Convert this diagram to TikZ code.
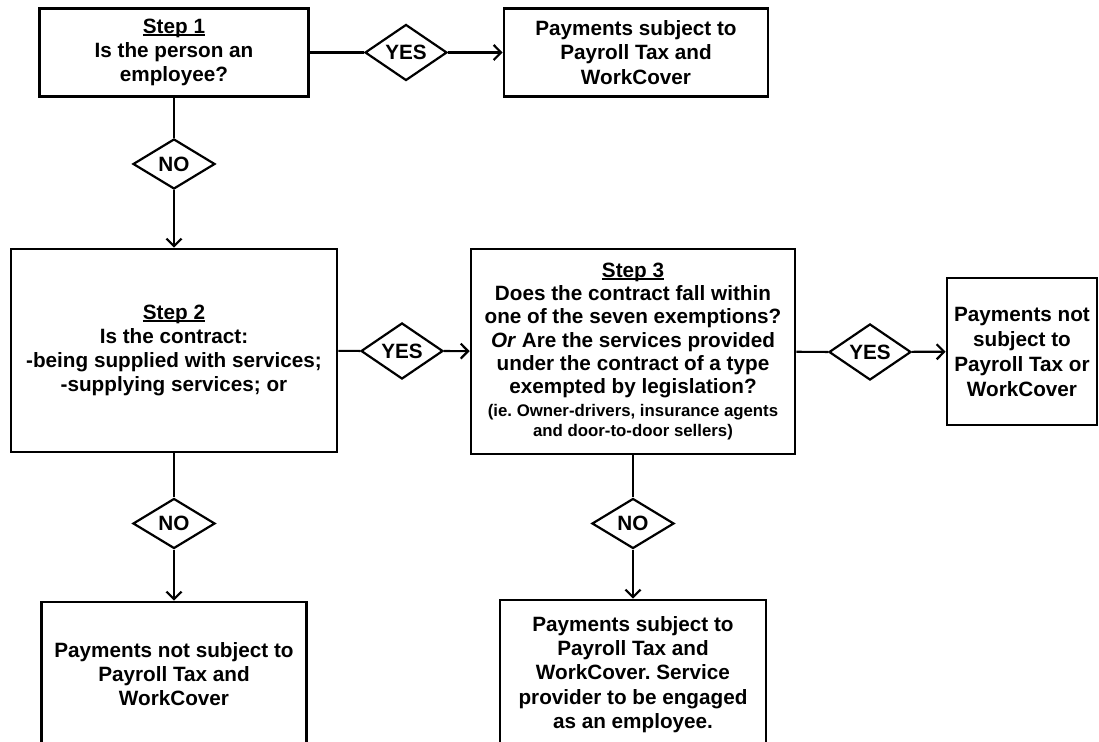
\documentclass[tikz,border=0pt]{standalone}
\usepackage{fontspec}
\setmainfont{Liberation Sans}
\usetikzlibrary{shapes.geometric,arrows.meta}
\frenchspacing

\newcommand{\smalltxt}{\fontsize{8.4}{9.3}\selectfont}
\newsavebox{\stepsave}
\newcommand{\stepname}[1]{\sbox{\stepsave}{#1}\rlap{\rule[-1.3pt]{\wd\stepsave}{1.15pt}}\usebox{\stepsave}}

\begin{document}
\begin{tikzpicture}[x=0.5pt,y=-0.5pt,
    box/.style={draw,line width=1.35pt,align=center,inner sep=0pt,
      font=\bfseries\fontsize{10.35}{12.1}\selectfont},
    choice/.style={draw,diamond,line width=1.1pt,inner sep=0pt,
      minimum width=41pt,minimum height=25pt,
      font=\bfseries\fontsize{10.35}{12.1}\selectfont},
    link/.style={line width=1.1pt},
    go/.style={line width=1.1pt,-{Straight Barb[length=3.7pt,width=7.5pt]}}]

    % Page size
    \useasboundingbox (0,0) rectangle (1099,742);
    \clip (0,0) rectangle (1099,742);

    % Step 1 row
    \node[box,minimum width=134.5pt,minimum height=44pt] (step1) at (174,52.5)
      {\stepname{Step 1}\\Is the person an\\employee?};
    \node[choice] (yes1) at (406,52.5) {YES};
    \node[box,minimum width=132pt,minimum height=44pt] (paid1) at (636,52.5)
      {Payments subject to\\Payroll Tax and\\WorkCover};
    \node[choice] (no1) at (174,164) {NO};

    % Step 2 and step 3 row
    \node[box,minimum width=163pt,minimum height=101.5pt] (step2) at (174,350.5)
      {\stepname{Step 2}\\Is the contract:\\-being supplied with services;\\-supplying services; or};
    \node[choice] (yes2) at (402,351) {YES};
    \node[box,minimum width=162pt,minimum height=102.5pt,
      font=\bfseries\fontsize{10.35}{11.6}\selectfont] (step3) at (633,351.5)
      {\stepname{Step 3}\\Does the contract fall within\\one of the seven exemptions?\\
       \textit{Or} Are the services provided\\under the contract of a type\\
       exempted by legislation?\\[-0.1pt]
       {\smalltxt (ie. Owner-drivers, insurance agents}\\[-1.6pt]
       {\smalltxt and door-to-door sellers)}};
    \node[choice] (yes3) at (870,352) {YES};
    \node[box,minimum width=75pt,minimum height=73.5pt,
      font=\bfseries\fontsize{10.35}{12.5}\selectfont] (paid2) at (1022,351.5)
      {Payments not\\subject to\\Payroll Tax or\\WorkCover};

    % Bottom row
    \node[choice] (no2) at (174,523.5) {NO};
    \node[choice] (no3) at (633,523.5) {NO};
    \node[box,minimum width=132.5pt,minimum height=72pt] (paid3) at (174,674)
      {Payments not subject to\\Payroll Tax and\\WorkCover};
    \node[box,minimum width=133pt,minimum height=74.5pt] (paid4) at (633,674.5)
      {Payments subject to\\Payroll Tax and\\WorkCover. Service\\provider to be engaged\\as an employee.};

    % Connectors
    \draw[link] (step1) -- (yes1);
    \draw[go] (yes1) -- (paid1);
    \draw[link] (step1) -- (no1);
    \draw[go] (no1) -- (step2);
    \draw[link] (step2) -- (yes2);
    \draw[go] (yes2) -- (step3);
    \draw[link] (step3) -- (yes3);
    \draw[go] (yes3) -- (paid2);
    \draw[link] (step2) -- (no2);
    \draw[go] (no2) -- (paid3);
    \draw[link] (step3) -- (no3);
    \draw[go] (no3) -- (paid4);

\end{tikzpicture}
\end{document}
